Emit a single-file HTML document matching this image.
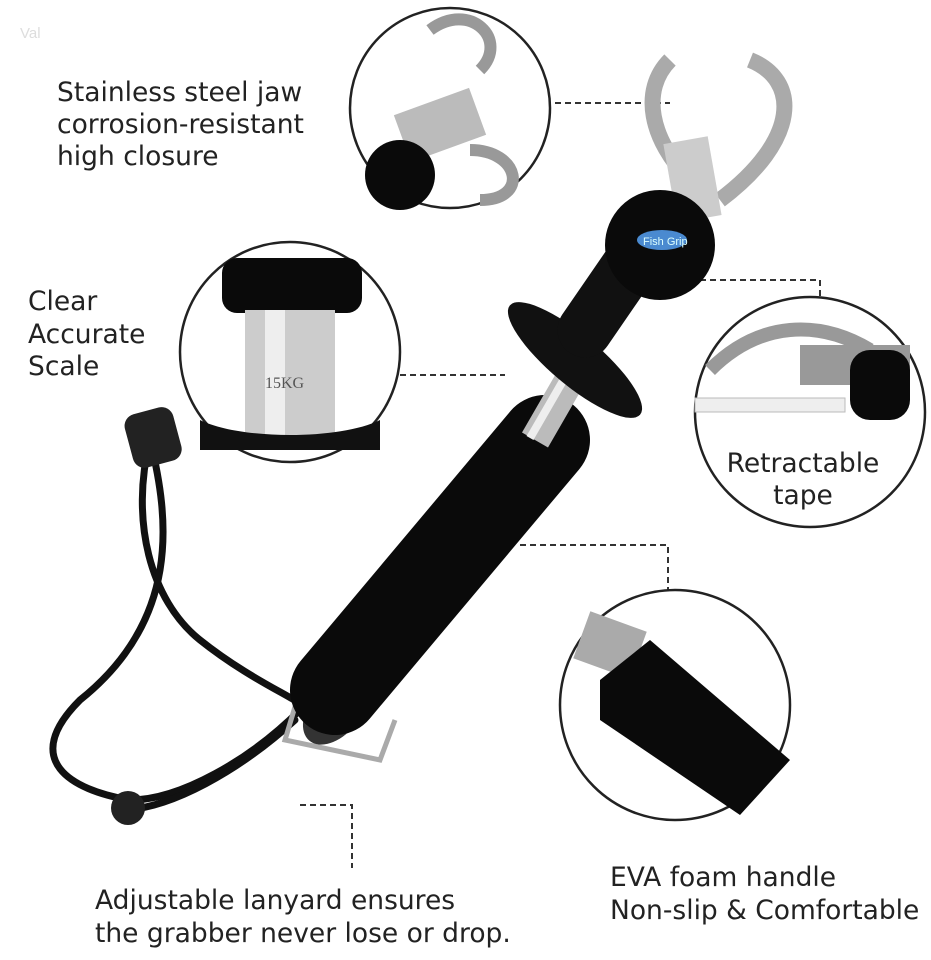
<!DOCTYPE html>
<html><head><meta charset="utf-8"><style>
html,body{margin:0;padding:0;background:#fff;}
body{width:931px;height:960px;overflow:hidden;position:relative;font-family:"DejaVu Sans",sans-serif;}
svg{position:absolute;left:0;top:0;}
.t{font-family:"DejaVu Sans","Liberation Sans",sans-serif;font-size:26.5px;fill:#222;}
</style></head><body>
<svg width="931" height="960" viewBox="0 0 931 960">
<text x="20" y="38" font-size="15" fill="#ddd" font-family="Liberation Sans">Val</text>
<g stroke="#333" stroke-width="2" stroke-dasharray="6,4" fill="none">
<path d="M545 103H670"/>
<path d="M400 375H505"/>
<path d="M700 280H820V322"/>
<path d="M520 545H668V596"/>
<path d="M300 805H352V868"/>
</g>
<g stroke="#111" stroke-width="7" fill="none" stroke-linecap="round">
<path d="M150 440 C130 520 150 600 200 640 C250 680 300 700 300 705"/>
<path d="M150 440 C170 520 180 620 80 700 C20 760 70 790 130 800"/>
<path d="M300 710 C250 760 180 800 130 800"/>
<path d="M295 720 C240 770 170 810 120 810"/>
</g>
<rect x="128" y="410" width="50" height="55" rx="12" fill="#222" transform="rotate(-15 153 437)"/>
<circle cx="128" cy="808" r="17" fill="#222"/>
<path d="M300 690 L285 740 L380 760 L395 720" stroke="#aaa" stroke-width="5" fill="none"/>
<ellipse cx="335" cy="710" rx="40" ry="25" fill="#333" transform="rotate(-50 335 710)"/>
<line x1="335" y1="690" x2="545" y2="440" stroke="#0a0a0a" stroke-width="90" stroke-linecap="round"/>
<line x1="535" y1="440" x2="610" y2="310" stroke="#bbb" stroke-width="30"/>
<line x1="530" y1="438" x2="605" y2="308" stroke="#eee" stroke-width="8"/>
<ellipse cx="575" cy="360" rx="85" ry="25" fill="#111" transform="rotate(40 575 360)"/>
<line x1="585" y1="330" x2="640" y2="250" stroke="#111" stroke-width="55" stroke-linecap="round"/>
<path d="M670 60 C640 90 650 140 690 180" stroke="#aaa" stroke-width="16" fill="none"/>
<path d="M750 60 C800 80 800 140 720 200" stroke="#aaa" stroke-width="16" fill="none"/>
<rect x="670" y="140" width="45" height="80" fill="#ccc" transform="rotate(-10 690 180)"/>
<circle cx="660" cy="245" r="55" fill="#0a0a0a"/>
<ellipse cx="662" cy="240" rx="25" ry="10" fill="#4a8ad0"/>
<text x="643" y="245" font-size="11" fill="#dff" font-family="Liberation Sans">Fish Grip</text>
<g stroke="#222" stroke-width="2.5" fill="#fff">
<circle cx="450" cy="108" r="100"/>
<circle cx="290" cy="352" r="110"/>
<circle cx="810" cy="412" r="115"/>
<circle cx="675" cy="705" r="115"/>
</g>
<path d="M430 30 C470 0 510 40 480 70" stroke="#999" stroke-width="12" fill="none"/>
<path d="M470 150 C520 150 530 200 480 200" stroke="#999" stroke-width="12" fill="none"/>
<rect x="400" y="100" width="80" height="50" fill="#bbb" transform="rotate(-20 440 125)"/>
<circle cx="400" cy="175" r="35" fill="#0a0a0a"/>
<rect x="222" y="258" width="140" height="55" rx="15" fill="#0a0a0a"/>
<rect x="245" y="310" width="90" height="130" fill="#ccc"/>
<rect x="265" y="310" width="20" height="130" fill="#eee"/>
<text x="265" y="388" font-size="16" fill="#555" font-family="Liberation Serif">15KG</text>
<path d="M200 420 C240 440 340 440 380 420 L380 450 L200 450Z" fill="#111"/>
<path d="M710 370 C760 320 820 320 870 350" stroke="#999" stroke-width="14" fill="none"/>
<rect x="800" y="345" width="110" height="40" fill="#999"/>
<rect x="850" y="350" width="60" height="70" rx="20" fill="#0a0a0a"/>
<rect x="695" y="398" width="150" height="14" fill="#eee" stroke="#bbb"/>
<rect x="580" y="620" width="60" height="50" fill="#aaa" transform="rotate(20 610 645)"/>
<path d="M600 680 L650 640 L790 760 L740 815 L600 720Z" fill="#0a0a0a"/>
<text class="t" x="57" y="101">Stainless steel jaw</text>
<text class="t" x="57" y="133">corrosion-resistant</text>
<text class="t" x="57" y="165">high closure</text>
<text class="t" x="28" y="310">Clear</text>
<text class="t" x="28" y="343">Accurate</text>
<text class="t" x="28" y="375">Scale</text>
<text class="t" x="803" y="472" text-anchor="middle">Retractable</text>
<text class="t" x="803" y="504" text-anchor="middle">tape</text>
<text class="t" x="610" y="886">EVA foam handle</text>
<text class="t" x="610" y="919">Non-slip &amp; Comfortable</text>
<text class="t" x="95" y="909">Adjustable lanyard ensures</text>
<text class="t" x="95" y="942">the grabber never lose or drop.</text>
</svg>
</body></html>
